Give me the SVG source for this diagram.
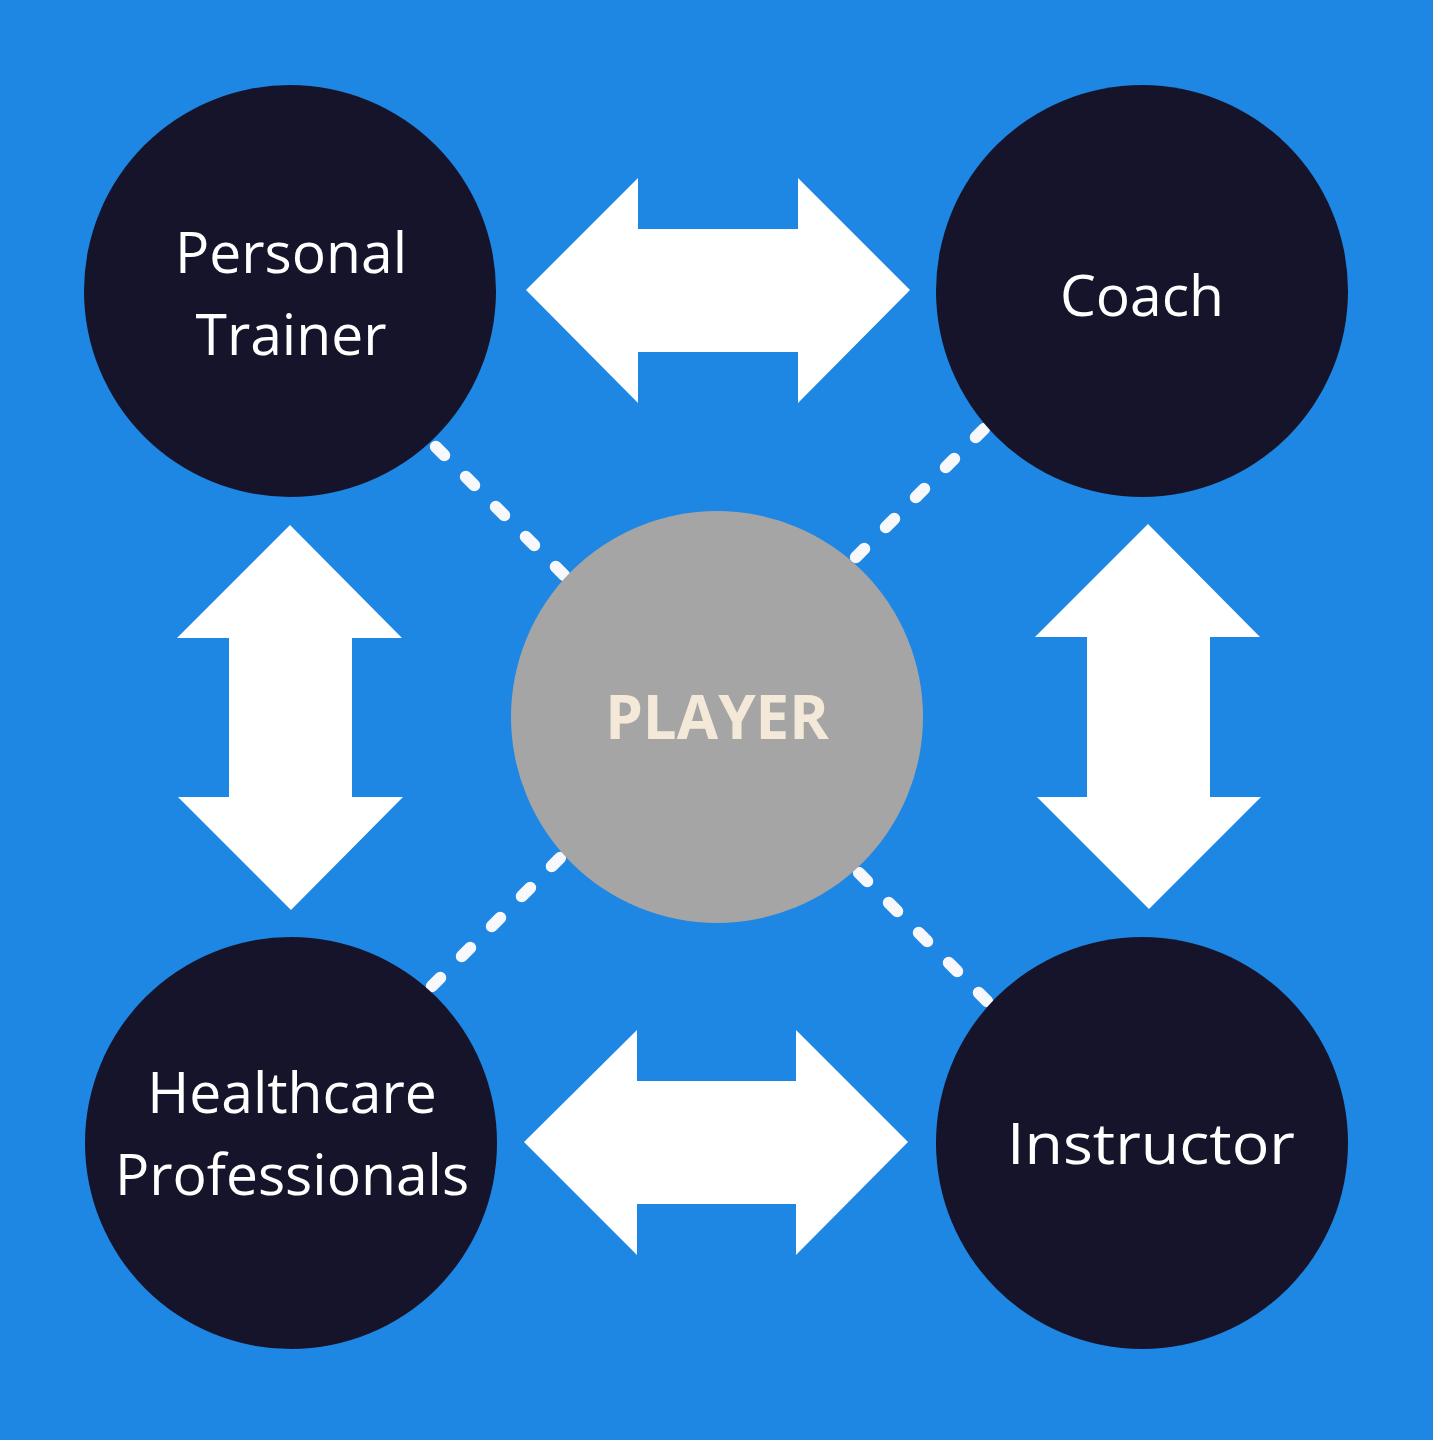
<svg xmlns="http://www.w3.org/2000/svg" width="1433" height="1440" viewBox="0 0 1433 1440">
  <style>
    .bg { fill: #1E86E3; }
    .node { fill: #15142B; }
    .center { fill: #A5A5A5; }
    .arrow { fill: #FFFFFF; }
    .dash { stroke: #F7F8FB; stroke-width: 12; stroke-linecap: round; stroke-dasharray: 12 30.4; fill: none; }
    .label { font-family: "Open Sans", "Noto Sans", sans-serif; font-size: 57px; fill: #FFFFFF; text-anchor: middle; }
    .player { font-family: "Open Sans", "Liberation Sans", sans-serif; font-weight: 700; font-size: 60px; fill: #F4E8D8; text-anchor: middle; }
  </style>
  <rect class="bg" x="0" y="0" width="1433" height="1440"/>
  <g id="connectors">
    <line class="dash" x1="435.8" y1="446.8" x2="564.2" y2="575.2"/>
    <line class="dash" x1="855.8" y1="557.2" x2="984.2" y2="428.8"/>
    <line class="dash" x1="431.8" y1="986.2" x2="560.2" y2="857.8"/>
    <line class="dash" x1="858.8" y1="872.8" x2="987.2" y2="1001.2"/>
    <polygon class="arrow" points="526,290 638,178 638,229 798,229 798,178 910,290 798,403 798,352 638,352 638,403"/>
    <polygon class="arrow" points="524,1142 637,1030 637,1081 796,1081 796,1030 908,1142 796,1255 796,1204 637,1204 637,1255"/>
    <polygon class="arrow" points="290,525 402,638 352,638 352,797 403,797 291,910 178,797 229,797 229,638 177,638"/>
    <polygon class="arrow" points="1148,524 1260,637 1210,637 1210,797 1261,797 1149,909 1037,797 1087,797 1087,637 1035,637"/>
  </g>
  <g id="personal-trainer">
    <circle class="node" cx="290" cy="291" r="206"/>
    <text class="label" x="291" y="273">Personal</text>
    <text class="label" x="291" y="355">Trainer</text>
  </g>
  <g id="coach">
    <circle class="node" cx="1142" cy="291" r="206"/>
    <text class="label" x="1142" y="316">Coach</text>
  </g>
  <g id="healthcare-professionals">
    <circle class="node" cx="291" cy="1143" r="206"/>
    <text class="label" x="292" y="1113">Healthcare</text>
    <text class="label" x="292" y="1195">Professionals</text>
  </g>
  <g id="instructor">
    <circle class="node" cx="1142" cy="1143" r="206"/>
    <text class="label" x="1151" y="1164" textLength="288" lengthAdjust="spacingAndGlyphs">Instructor</text>
  </g>
  <g id="player">
    <circle class="center" cx="717" cy="717" r="206"/>
    <text class="player" x="717" y="739">PLAYER</text>
  </g>
</svg>
